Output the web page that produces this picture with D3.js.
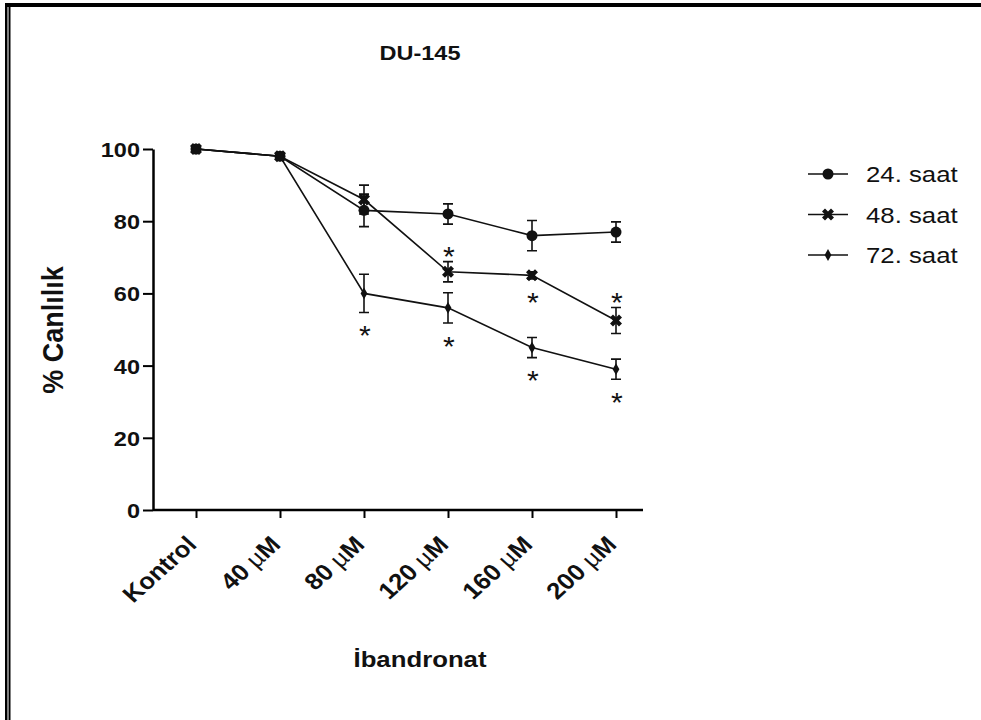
<!DOCTYPE html>
<html>
<head>
<meta charset="utf-8">
<script src="https://cdn.jsdelivr.net/npm/d3@7"></script>
<style>
  body { margin: 0; background: white; }
  svg { display: block; }
  text { font-family: Arial, "Liberation Sans", sans-serif; }
</style>
</head>
<body>
<div id="viz"></div>
<script>
// Data
var categories = ["Kontrol", "40 µM", "80 µM", "120 µM", "160 µM", "200 µM"];
var seriesNames = ["24. saat", "48. saat", "72. saat"];
var values24 = [100, 98, 83, 82, 76, 77];
var errors24 = [0.5, 0.5, 4.5, 2.8, 4.2, 2.8];
var values48 = [100, 98, 86, 66, 65, 52.5];
var errors48 = [0.5, 0.5, 4, 2.8, 1, 3.6];
var values72 = [100, 98, 60, 56, 45, 39];
var errors72 = [0.5, 0.5, 5.3, 4.2, 2.8, 2.8];
var yTicks = [0, 20, 40, 60, 80, 100];
// significance marks: series index, category index, side
var sigMarks = [
	{s: 2, c: 2, side: "below"},
	{s: 1, c: 3, side: "above"},
	{s: 2, c: 3, side: "below"},
	{s: 1, c: 4, side: "below"},
	{s: 2, c: 4, side: "below"},
	{s: 1, c: 5, side: "above"},
	{s: 2, c: 5, side: "below"}
];

var series = [
	{name: seriesNames[0], values: values24, errors: errors24, symbol: "circle"},
	{name: seriesNames[1], values: values48, errors: errors48, symbol: "x"},
	{name: seriesNames[2], values: values72, errors: errors72, symbol: "diamond"}
];

var width = 981, height = 720;
// the source picture is a little wider than tall, text included
var stretch = 1.12;

var svg = d3.select("#viz")
	.append("svg")
	.attr("width", width)
	.attr("height", height);

// Frame lines
svg.append("rect").attr("x", 5).attr("y", 3).attr("width", width - 5).attr("height", 4).attr("fill", "black");
svg.append("rect").attr("x", 5).attr("y", 3).attr("width", 2.5).attr("height", height).attr("fill", "black");
svg.append("rect").attr("x", 8.5).attr("y", 3).attr("width", 2).attr("height", height).attr("fill", "black");

// Scales
var x = d3.scalePoint().domain(categories).range([196, 616]);
var y = d3.scaleLinear().domain([0, 100]).range([510, 149]);
var axisLeft = 153;

// Y axis
var yAxis = svg.append("g")
	.attr("transform", `translate(${axisLeft},0)`)
	.call(d3.axisLeft(y).tickValues(yTicks).tickSize(10).tickSizeOuter(0));
yAxis.select(".domain").attr("stroke-width", 2.5);
yAxis.selectAll(".tick line").attr("stroke-width", 2);
yAxis.selectAll(".tick text")
	.attr("x", null)
	.attr("dy", "0.36em")
	.attr("transform", `translate(-13,0) scale(${stretch},1)`)
	.style("font-size", "21px")
	.style("font-weight", "bold")
	.attr("fill", "#111");

// X axis
var xAxis = svg.append("g")
	.attr("transform", `translate(0,${y(0)})`)
	.call(d3.axisBottom(x).tickSize(8).tickSizeOuter(0).tickFormat(""));
xAxis.select(".domain").attr("d", `M${axisLeft},0H643`).attr("stroke-width", 2.5);
xAxis.selectAll(".tick line").attr("stroke-width", 2);

// X tick labels, rotated
svg.selectAll(".xlabel")
	.data(categories)
	.enter()
	.append("text")
	.attr("class", "xlabel")
	.attr("text-anchor", "end")
	.attr("transform", d => `translate(${x(d) + 2},${y(0) + 36}) scale(${stretch},1) rotate(-45)`)
	.style("font-size", "23px")
	.style("font-weight", "bold")
	.attr("fill", "#111")
	.each(function(d) {
		var t = d3.select(this);
		var parts = d.split("µ");
		if (parts.length == 1) {
			t.text(d);
		} else {
			t.append("tspan").text(parts[0]);
			t.append("tspan").style("font-weight", "normal").text("µ");
			t.append("tspan").text(parts[1]);
		}
	});

// Lines
var line = d3.line().x((d, i) => x(categories[i])).y(d => y(d));
svg.selectAll(".series-line")
	.data(series)
	.enter()
	.append("path")
	.attr("class", "series-line")
	.attr("d", d => line(d.values))
	.attr("fill", "none")
	.attr("stroke", "#111")
	.attr("stroke-width", 1.6);

// Error bars
var capHalf = 5;
series.forEach(s => {
	s.values.forEach((v, i) => {
		var cx = x(categories[i]),
			top = y(v + s.errors[i]),
			bottom = y(v - s.errors[i]);
		var p = d3.path();
		p.moveTo(cx, top); p.lineTo(cx, bottom);
		p.moveTo(cx - capHalf, top); p.lineTo(cx + capHalf, top);
		p.moveTo(cx - capHalf, bottom); p.lineTo(cx + capHalf, bottom);
		svg.append("path")
			.attr("d", p.toString())
			.attr("fill", "none")
			.attr("stroke", "#111")
			.attr("stroke-width", 1.6);
	});
});

// Markers
var drawMarker = (g, type, cx, cy) => {
	if (type == "circle") {
		g.append("circle").attr("cx", cx).attr("cy", cy).attr("r", 5.5).attr("fill", "#111");
	} else if (type == "x") {
		g.append("path")
			.attr("d", d3.symbol().type(d3.symbolCross).size(90)())
			.attr("transform", `translate(${cx},${cy}) rotate(45)`)
			.attr("fill", "#111");
	} else {
		g.append("path")
			.attr("d", d3.symbol().type(d3.symbolDiamond).size(40)())
			.attr("transform", `translate(${cx},${cy})`)
			.attr("fill", "#111");
	}
};
series.forEach(s => {
	s.values.forEach((v, i) => drawMarker(svg, s.symbol, x(categories[i]), y(v)));
});

// Significance asterisks
var starSize = 27;
svg.selectAll(".star")
	.data(sigMarks)
	.enter()
	.append("text")
	.attr("class", "star")
	.attr("text-anchor", "middle")
	.attr("transform", d => {
		var s = series[d.s];
		var centre = d.side == "above"
			? y(s.values[d.c] + s.errors[d.c]) - 11
			: y(s.values[d.c] - s.errors[d.c]) + 17;
		return `translate(${x(categories[d.c]) + 1},${centre + starSize * 0.58}) scale(${stretch},1)`;
	})
	.style("font-size", starSize + "px")
	.attr("fill", "#111")
	.text("*");

// Title and axis labels
svg.append("text")
	.attr("transform", `translate(420,60) scale(${stretch},1)`)
	.attr("text-anchor", "middle")
	.style("font-size", "21px").style("font-weight", "bold")
	.attr("fill", "#111")
	.text("DU-145");

svg.append("text")
	.attr("transform", `translate(63,330) scale(${stretch},1) rotate(-90)`)
	.attr("text-anchor", "middle")
	.style("font-size", "27px").style("font-weight", "bold")
	.attr("fill", "#111")
	.text("% Canlılık");

svg.append("text")
	.attr("transform", `translate(420,667) scale(${stretch},1)`)
	.attr("text-anchor", "middle")
	.style("font-size", "23px").style("font-weight", "bold")
	.attr("fill", "#111")
	.text("İbandronat");

// Legend
var legend = svg.selectAll(".legend")
	.data(series)
	.enter()
	.append("g")
	.attr("class", "legend")
	.attr("transform", (d, i) => `translate(0,${174 + i * 40.5})`);
legend.append("line")
	.attr("x1", 808).attr("x2", 848)
	.attr("stroke", "#111").attr("stroke-width", 1.6);
legend.each(function(d) { drawMarker(d3.select(this), d.symbol, 828, 0); });
legend.append("text")
	.attr("transform", `translate(866,0) scale(${stretch},1)`)
	.attr("dy", "0.36em")
	.style("font-size", "23px")
	.attr("fill", "#111")
	.text(d => d.name);
</script>
</body>
</html>
